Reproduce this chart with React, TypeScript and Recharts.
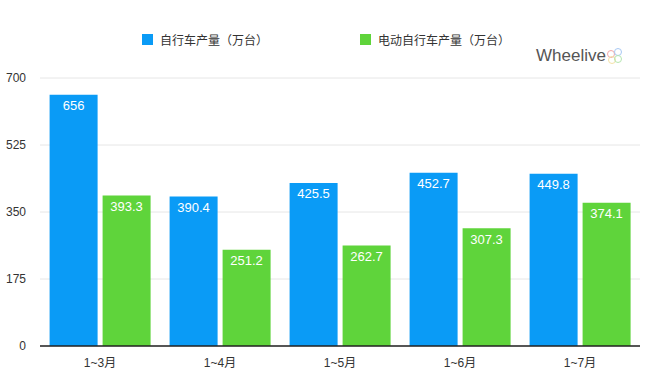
import { BarChart, Bar, XAxis, YAxis, CartesianGrid, LabelList } from 'recharts'

const CATEGORIES = ['1~3月', '1~4月', '1~5月', '1~6月', '1~7月']
const BIKE = [656, 390.4, 425.5, 452.7, 449.8]
const EBIKE = [393.3, 251.2, 262.7, 307.3, 374.1]
const Y_TICKS = [0, 175, 350, 525, 700]

const BLUE = '#0a9bf6'
const GREEN = '#5fd43b'
const FONT = '"Liberation Sans", "Noto Sans CJK SC", Arial, sans-serif'

const SERIES = [
  { key: 'bike', name: '自行车产量（万台）', color: BLUE },
  { key: 'ebike', name: '电动自行车产量（万台）', color: GREEN },
]

const data = CATEGORIES.map((name, i) => ({ name, bike: BIKE[i], ebike: EBIKE[i] }))

export default function App() {
  return (
    <div style={{ position: 'fixed', left: 0, top: 0, width: 653, height: 374, background: '#fff', fontFamily: FONT }}>
      <BarChart
        width={653}
        height={374}
        data={data}
        margin={{ top: 78, right: 13, bottom: 0, left: 0 }}
        barCategoryGap="8%"
        barGap={5}
      >
        <CartesianGrid vertical={false} stroke="#e6e6e6" />
        <XAxis
          dataKey="name"
          height={28}
          tickLine={false}
          axisLine={{ stroke: '#222', strokeWidth: 1.5 }}
          tick={{ fill: '#333', fontSize: 12 }}
          tickMargin={6}
        />
        <YAxis
          width={40}
          domain={[0, 700]}
          ticks={Y_TICKS}
          axisLine={false}
          tickLine={false}
          tickMargin={8}
          tick={{ fill: '#333', fontSize: 12 }}
        />
        {SERIES.map((s) => (
          <Bar key={s.key} dataKey={s.key} name={s.name} fill={s.color} isAnimationActive={false}>
            <LabelList dataKey={s.key} position="insideTop" offset={6} fill="#fff" fontSize={13} />
          </Bar>
        ))}
      </BarChart>
      {/* 图例 */}
      <div style={{ position: 'absolute', left: 0, top: 31, width: 652, display: 'flex', justifyContent: 'center', gap: 92 }}>
        {SERIES.map((s) => (
          <div key={s.key} style={{ display: 'flex', alignItems: 'center', fontSize: 12, color: '#333' }}>
            <span style={{ width: 11, height: 11, background: s.color, display: 'inline-block', marginRight: 7 }} />
            {s.name}
          </div>
        ))}
      </div>
      {/* 水印 */}
      <div style={{ position: 'absolute', left: 536, top: 46, display: 'flex', alignItems: 'center' }}>
        <span style={{ fontSize: 17, color: '#555', fontFamily: '"Liberation Sans", Arial, sans-serif' }}>Wheelive</span>
        <svg width={18} height={18}>
          <circle cx={5} cy={7} r={3.5} fill="none" stroke="#f4a7a7" strokeWidth={1} />
          <circle cx={12} cy={5} r={3.5} fill="none" stroke="#a7c8f4" strokeWidth={1} />
          <circle cx={6} cy={13} r={3.5} fill="none" stroke="#f4e2a7" strokeWidth={1} />
          <circle cx={12} cy={12} r={3.5} fill="none" stroke="#b5e6b0" strokeWidth={1} />
        </svg>
      </div>
    </div>
  )
}
